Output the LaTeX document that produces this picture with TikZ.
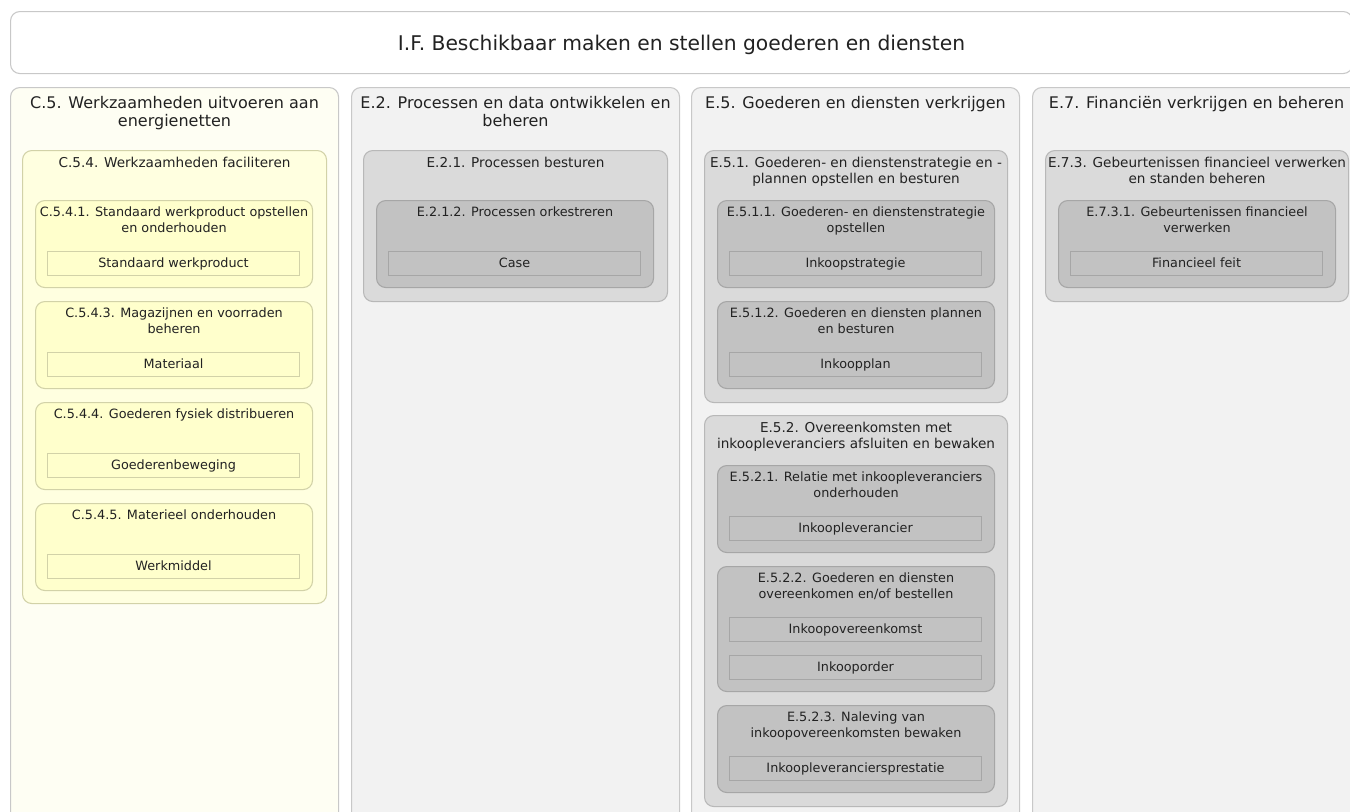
\documentclass[tikz,border=0pt]{standalone}
\usepackage{fontspec}
\setmainfont{DejaVu Sans}
\usepackage{xcolor}
\usetikzlibrary{positioning}
\definecolor{ink}{HTML}{222222}
\definecolor{rimlight}{HTML}{C8C8C8}
\definecolor{rimdark}{HTML}{A6A6A6}
\definecolor{rimyel}{HTML}{D2D2A8}
\definecolor{lanegrey}{HTML}{F2F2F2}
\definecolor{grpgrey}{HTML}{DADADA}
\definecolor{subgrey}{HTML}{C2C2C2}
\definecolor{laneyellow}{HTML}{FEFEF3}
\definecolor{grpyellow}{HTML}{FFFFE0}
\definecolor{subyellow}{HTML}{FFFFCC}
\newcommand\pxu{0.75pt}
\tikzset{
  box/.style      = {rectangle, anchor=north west, inner sep=0pt,
                     line width=0.8pt, rounded corners=7pt},
  banner/.style   = {box, draw=rimlight, fill=white},
  lanegy/.style   = {box, draw=rimlight, fill=lanegrey},
  laneyl/.style   = {box, draw=rimlight, fill=laneyellow},
  grpgy/.style    = {box, draw=rimdark!80, fill=grpgrey},
  grpyl/.style    = {box, draw=rimyel, fill=grpyellow},
  subgy/.style    = {box, draw=rimdark, fill=subgrey},
  subyl/.style    = {box, draw=rimyel, fill=subyellow},
  leafgy/.style   = {box, rounded corners=0pt, draw=rimdark, fill=subgrey,
                     text=ink, font=\fontsize{9.6}{12}\selectfont,
                     text height=0.8em, text depth=0.18em,
                     minimum width=252*\pxu, minimum height=24*\pxu},
  leafyl/.style   = {leafgy, draw=rimyel, fill=subyellow},
  ttl/.style      = {anchor=north, inner sep=0pt, align=center, text=ink,
                     font=\fontsize{10.2}{12}\selectfont},
  subttl/.style   = {ttl, font=\fontsize{9.6}{12}\selectfont},
  lanettl/.style  = {ttl, font=\fontsize{12}{13.5}\selectfont},
  bannerttl/.style= {ttl, anchor=center, font=\fontsize{15.2}{18}\selectfont},
}
\begin{document}
\begin{tikzpicture}[x=0.75pt, y=-0.75pt]
  \clip (0,0) rectangle (1350,811);
  \fill[white] (0,0) rectangle (1350,811);
  % banner
  \node[banner, minimum width=1342*\pxu, minimum height=62*\pxu] (bnr) at (10,11) {};
  \node[bannerttl, yshift=-1.5pt] (bnrt) at (bnr.center)
    {I.F. Beschikbaar maken en stellen goederen en diensten};

  % lanes
  \node[laneyl, minimum width=328*\pxu, minimum height=760*\pxu] (c5) at (10,87) {};
  \node[lanegy, minimum width=328*\pxu, minimum height=760*\pxu] (e2) at (351,87) {};
  \node[lanegy, minimum width=328*\pxu, minimum height=760*\pxu] (e5) at (691,87) {};
  \node[lanegy, minimum width=328*\pxu, minimum height=760*\pxu] (e7) at (1032,87) {};
  \node[lanettl, below=6.5pt of c5.north] (c5t)
    {C.5. Werkzaamheden uitvoeren aan\\energienetten};
  \node[lanettl, below=6.5pt of e2.north] (e2t)
    {E.2. Processen en data ontwikkelen en\\beheren};
  \node[lanettl, below=6.5pt of e5.north] (e5t) {E.5. Goederen en diensten verkrijgen};
  \node[lanettl, below=6.5pt of e7.north] (e7t)
    {E.7. Financiën verkrijgen en beheren};

  % groups
  \node[grpyl, minimum width=304*\pxu, minimum height=453*\pxu] (c54) at (22,150) {};
  \node[grpgy, minimum width=304*\pxu, minimum height=151*\pxu] (e21) at (363,150) {};
  \node[grpgy, minimum width=303*\pxu, minimum height=252*\pxu] (e51) at (704,150) {};
  \node[grpgy, minimum width=303*\pxu, minimum height=391*\pxu] (e52) at (704,415) {};
  \node[grpgy, minimum width=303*\pxu, minimum height=151*\pxu] (e73) at (1045,150) {};
  \node[ttl, below=4.9pt of c54.north] (c54t) {C.5.4. Werkzaamheden faciliteren};
  \node[ttl, below=4.9pt of e21.north] (e21t) {E.2.1. Processen besturen};
  \node[ttl, below=4.9pt of e51.north] (e51t)
    {E.5.1. Goederen- en dienstenstrategie en -\\plannen opstellen en besturen};
  \node[ttl, below=4.9pt of e52.north] (e52t)
    {E.5.2. Overeenkomsten met\\inkoopleveranciers afsluiten en bewaken};
  \node[ttl, below=4.9pt of e73.north] (e73t)
    {E.7.3. Gebeurtenissen financieel verwerken\\en standen beheren};

  % processes with one object each
  \foreach \nm/\xx/\yy/\kind/\ttltext/\leaf in {
      c541/35/200/yl/{C.5.4.1. Standaard werkproduct opstellen\\en onderhouden}/Standaard werkproduct,
      c543/35/301/yl/{C.5.4.3. Magazijnen en voorraden\\beheren}/Materiaal,
      c544/35/402/yl/{C.5.4.4. Goederen fysiek distribueren}/Goederenbeweging,
      c545/35/503/yl/{C.5.4.5. Materieel onderhouden}/Werkmiddel,
      e212/376/200/gy/{E.2.1.2. Processen orkestreren}/Case,
      e511/717/200/gy/{E.5.1.1. Goederen- en dienstenstrategie\\opstellen}/Inkoopstrategie,
      e512/717/301/gy/{E.5.1.2. Goederen en diensten plannen\\en besturen}/Inkoopplan,
      e521/717/465/gy/{E.5.2.1. Relatie met inkoopleveranciers\\onderhouden}/Inkoopleverancier,
      e523/717/705/gy/{E.5.2.3. Naleving van\\inkoopovereenkomsten bewaken}/Inkoopleveranciersprestatie,
      e731/1058/200/gy/{E.7.3.1. Gebeurtenissen financieel\\verwerken}/Financieel feit} {
    \node[sub\kind, minimum width=277*\pxu, minimum height=87*\pxu] (\nm) at (\xx,\yy) {};
    \node[subttl, below=5.2pt of \nm.north] (\nm t) {\ttltext};
    \node[leaf\kind] (\nm l) at ({\xx+12},{\yy+51}) {\leaf};
  }

  % process with two objects
  \node[subgy, minimum width=277*\pxu, minimum height=125*\pxu] (e522) at (717,566) {};
  \node[subttl, below=5.2pt of e522.north] (e522t)
    {E.5.2.2. Goederen en diensten\\overeenkomen en/of bestellen};
  \node[leafgy] (e522a) at (729,617) {Inkoopovereenkomst};
  \node[leafgy] (e522b) at (729,655) {Inkooporder};
\end{tikzpicture}
\end{document}
